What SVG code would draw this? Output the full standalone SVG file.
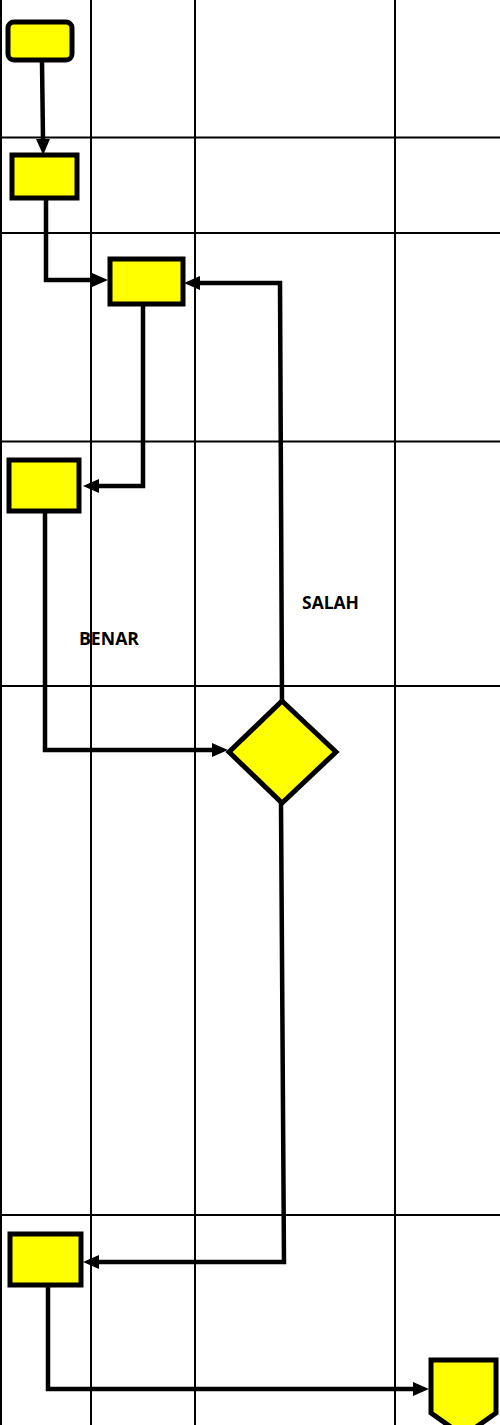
<svg xmlns="http://www.w3.org/2000/svg" width="500" height="1425" viewBox="0 0 500 1425">
<style>
.grid{stroke:#000;stroke-width:2;fill:none}
.node{fill:#FFFF00;stroke:#000;stroke-width:5}
.conn{fill:none;stroke:#000;stroke-width:4.5;marker-end:url(#arr)}
.lbl{font-family:"Open Sans","Liberation Sans",sans-serif;font-weight:bold;font-size:17px;fill:#000}
</style>
<defs>
<marker id="arr" markerUnits="userSpaceOnUse" viewBox="0 0 16 14" refX="0" refY="7" markerWidth="16" markerHeight="14" orient="auto">
<path d="M0,0 L16,7 L0,14 z" fill="#000"/>
</marker>
</defs>
<rect width="500" height="1425" fill="#fff"/>
<g id="grid" class="grid">
<line x1="1" y1="0" x2="1" y2="1425"/>
<line x1="91" y1="0" x2="91" y2="1425"/>
<line x1="195" y1="0" x2="195" y2="1425"/>
<line x1="395" y1="0" x2="395" y2="1425"/>
<line x1="0" y1="137.5" x2="500" y2="137.5"/>
<line x1="0" y1="233" x2="500" y2="233"/>
<line x1="0" y1="441.5" x2="500" y2="441.5"/>
<line x1="0" y1="686" x2="500" y2="686"/>
<line x1="0" y1="1215" x2="500" y2="1215"/>
</g>
<g id="connectors">
<path class="conn" d="M42,62 L43,139"/>
<path class="conn" d="M46,198 V280 H92"/>
<path class="conn" d="M282,701 L280,283 H200"/>
<path class="conn" d="M143,306 V486 H99"/>
<path class="conn" d="M45,513 V750 H212"/>
<path class="conn" d="M281,803 L284,1262 H99"/>
<path class="conn" d="M48,1287 V1389 H413"/>
</g>
<g id="start"><rect class="node" x="8" y="22" width="64" height="38" rx="6"/></g>
<g id="box2"><rect class="node" x="12" y="155" width="65" height="43"/></g>
<g id="box3"><rect class="node" x="110" y="259" width="73" height="45"/></g>
<g id="box4"><rect class="node" x="9" y="460" width="70" height="51"/></g>
<g id="decision"><polygon class="node" points="282,701 336,752 282,803 229,752"/></g>
<g id="box5"><rect class="node" x="10" y="1234" width="71" height="51"/></g>
<g id="offpage"><path class="node" d="M431,1360 H496 V1413 L463.5,1436 L431,1413 Z"/></g>
<g id="labels">
<text class="lbl" x="302" y="609" textLength="57" lengthAdjust="spacingAndGlyphs">SALAH</text>
<text class="lbl" x="79" y="645" textLength="60" lengthAdjust="spacingAndGlyphs">BENAR</text>
</g>
</svg>
